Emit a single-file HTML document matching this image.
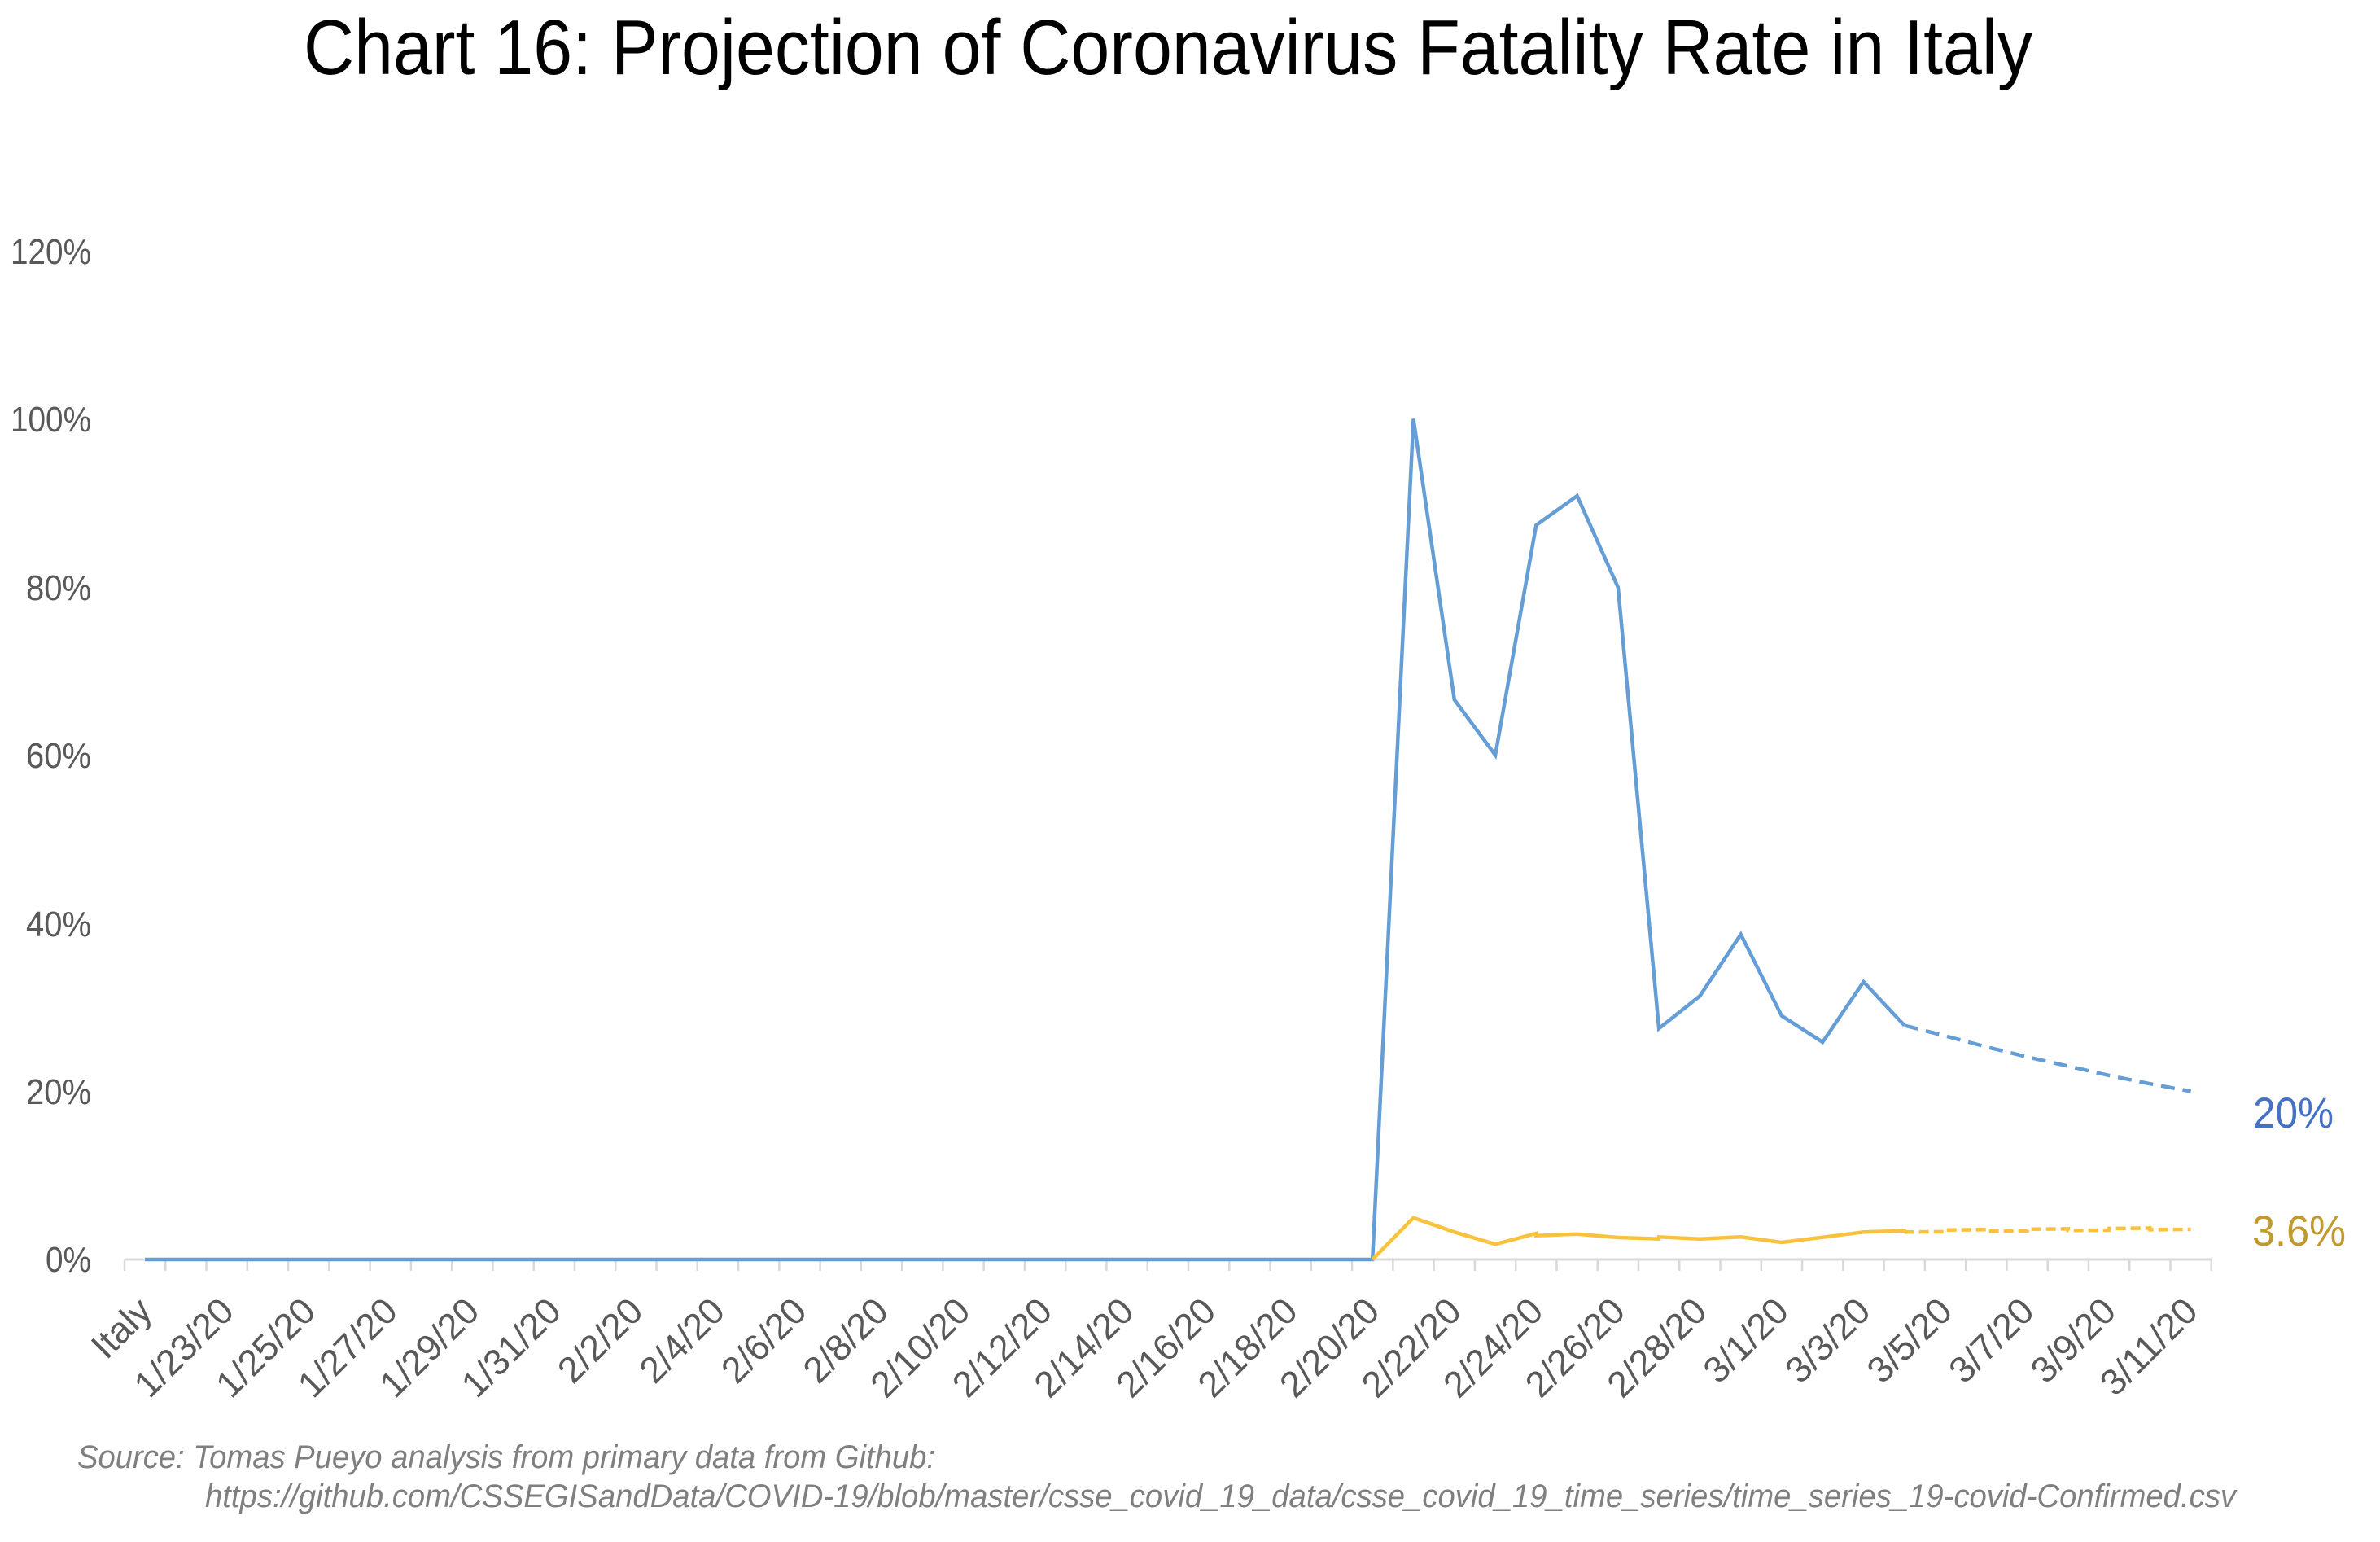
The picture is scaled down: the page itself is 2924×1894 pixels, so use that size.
<!DOCTYPE html>
<html>
<head>
<meta charset="utf-8">
<style>
html,body{margin:0;padding:0;background:#fff;}
svg{display:block;}
text{font-family:"Liberation Sans",Arial,sans-serif;}
</style>
</head>
<body>
<svg width="2924" height="1894" viewBox="0 0 2924 1894" xmlns="http://www.w3.org/2000/svg">
<rect x="0" y="0" width="2924" height="1894" fill="#ffffff"/>

<!-- Title -->
<text x="373" y="91" font-size="96" fill="#000" textLength="2124" lengthAdjust="spacingAndGlyphs">Chart 16: Projection of Coronavirus Fatality Rate in Italy</text>

<!-- Y axis labels -->
<g font-size="44" fill="#595959" text-anchor="end">
<text x="112" y="324" textLength="99" lengthAdjust="spacingAndGlyphs">120%</text>
<text x="112" y="530" textLength="99" lengthAdjust="spacingAndGlyphs">100%</text>
<text x="112" y="737" textLength="80" lengthAdjust="spacingAndGlyphs">80%</text>
<text x="112" y="943" textLength="80" lengthAdjust="spacingAndGlyphs">60%</text>
<text x="112" y="1150" textLength="80" lengthAdjust="spacingAndGlyphs">40%</text>
<text x="112" y="1356" textLength="80" lengthAdjust="spacingAndGlyphs">20%</text>
<text x="112" y="1562" textLength="56" lengthAdjust="spacingAndGlyphs">0%</text>
</g>

<!-- X axis -->
<line x1="153" y1="1547" x2="2717" y2="1547" stroke="#d9d9d9" stroke-width="3"/>
<path stroke="#d9d9d9" stroke-width="2.5" fill="none" d="
M153 1547V1561 M203.27 1547V1561 M253.54 1547V1561 M303.81 1547V1561 M354.08 1547V1561
M404.35 1547V1561 M454.62 1547V1561 M504.89 1547V1561 M555.16 1547V1561 M605.43 1547V1561
M655.7 1547V1561 M705.97 1547V1561 M756.24 1547V1561 M806.51 1547V1561 M856.78 1547V1561
M907.05 1547V1561 M957.32 1547V1561 M1007.59 1547V1561 M1057.86 1547V1561 M1108.13 1547V1561
M1158.4 1547V1561 M1208.67 1547V1561 M1258.94 1547V1561 M1309.21 1547V1561 M1359.48 1547V1561
M1409.75 1547V1561 M1460.02 1547V1561 M1510.29 1547V1561 M1560.56 1547V1561 M1610.83 1547V1561
M1661.1 1547V1561 M1711.37 1547V1561 M1761.64 1547V1561 M1811.91 1547V1561 M1862.18 1547V1561
M1912.45 1547V1561 M1962.72 1547V1561 M2012.99 1547V1561 M2063.26 1547V1561 M2113.53 1547V1561
M2163.8 1547V1561 M2214.07 1547V1561 M2264.34 1547V1561 M2314.61 1547V1561 M2364.88 1547V1561
M2415.15 1547V1561 M2465.42 1547V1561 M2515.69 1547V1561 M2565.96 1547V1561 M2616.23 1547V1561
M2666.5 1547V1561 M2716.77 1547V1561"/>

<!-- X axis labels -->
<g font-size="45" fill="#595959" text-anchor="end">
<text transform="translate(189.1,1613) rotate(-45)">Italy</text>
<text transform="translate(289.7,1613) rotate(-45)">1/23/20</text>
<text transform="translate(390.2,1613) rotate(-45)">1/25/20</text>
<text transform="translate(490.8,1613) rotate(-45)">1/27/20</text>
<text transform="translate(591.3,1613) rotate(-45)">1/29/20</text>
<text transform="translate(691.8,1613) rotate(-45)">1/31/20</text>
<text transform="translate(792.4,1613) rotate(-45)">2/2/20</text>
<text transform="translate(892.9,1613) rotate(-45)">2/4/20</text>
<text transform="translate(993.5,1613) rotate(-45)">2/6/20</text>
<text transform="translate(1094,1613) rotate(-45)">2/8/20</text>
<text transform="translate(1194.5,1613) rotate(-45)">2/10/20</text>
<text transform="translate(1295.1,1613) rotate(-45)">2/12/20</text>
<text transform="translate(1395.6,1613) rotate(-45)">2/14/20</text>
<text transform="translate(1496.2,1613) rotate(-45)">2/16/20</text>
<text transform="translate(1596.7,1613) rotate(-45)">2/18/20</text>
<text transform="translate(1697.2,1613) rotate(-45)">2/20/20</text>
<text transform="translate(1797.8,1613) rotate(-45)">2/22/20</text>
<text transform="translate(1898.3,1613) rotate(-45)">2/24/20</text>
<text transform="translate(1998.9,1613) rotate(-45)">2/26/20</text>
<text transform="translate(2099.4,1613) rotate(-45)">2/28/20</text>
<text transform="translate(2199.9,1613) rotate(-45)">3/1/20</text>
<text transform="translate(2300.5,1613) rotate(-45)">3/3/20</text>
<text transform="translate(2401,1613) rotate(-45)">3/5/20</text>
<text transform="translate(2501.6,1613) rotate(-45)">3/7/20</text>
<text transform="translate(2602.1,1613) rotate(-45)">3/9/20</text>
<text transform="translate(2702.6,1613) rotate(-45)">3/11/20</text>
</g>

<!-- Blue series (solid) -->
<polyline fill="none" stroke="#659dd5" stroke-width="4.5" stroke-linejoin="miter" stroke-miterlimit="10" points="
178.1,1547 1686.2,1547 1736.5,514.5 1786.8,859.5 1837.1,927.5 1887.3,645 1937.6,609 1987.9,721.5
2038.1,1263.3 2088.4,1223.3 2138.7,1147.7 2188.9,1247.7 2239.2,1280 2289.5,1206 2339.7,1259.5"/>
<!-- Blue projection (dashed) -->
<polyline fill="none" stroke="#659dd5" stroke-width="4.5" stroke-dasharray="17 10" points="
2339.7,1259.5 2390,1272.4 2440.3,1285.8 2490.6,1298.2 2540.8,1309.5 2591.1,1320.9 2641.4,1331.2 2691.6,1340.5"/>

<!-- Yellow series (solid) -->
<polyline fill="none" stroke="#f9c23c" stroke-width="4.5" stroke-linejoin="miter" points="
1686.2,1547 1736.5,1495.7 1786.8,1513.3 1837.1,1528.3 1887.3,1515 1887.3,1517.7 1937.6,1515.7 1987.9,1520
2038.1,1521.7 2038.1,1519.3 2088.4,1521.7 2138.7,1519.3 2188.9,1526 2239.2,1519.7 2289.5,1513.3 2339.7,1511.7 2339.7,1513.3"/>
<!-- Yellow projection (dashed) -->
<polyline fill="none" stroke="#f9c23c" stroke-width="4.5" stroke-dasharray="12 6" points="
2339.7,1513.3 2390,1512.8 2390,1510.8 2440.3,1510.3 2440.3,1512.3 2490.6,1511.8 2490.6,1509.8 2540.8,1509.3 2540.8,1511.3 2591.1,1510.9 2591.1,1508.9 2641.4,1508.4 2641.4,1510.4 2691.6,1510"/>

<!-- End labels -->
<text x="2768" y="1385" font-size="53" fill="#4472c4" textLength="99" lengthAdjust="spacingAndGlyphs">20%</text>
<text x="2767" y="1530" font-size="53" fill="#c09a2c" textLength="115" lengthAdjust="spacingAndGlyphs">3.6%</text>

<!-- Source -->
<g font-size="40" font-style="italic" fill="#7f7f7f">
<text x="95" y="1803" textLength="1054" lengthAdjust="spacingAndGlyphs">Source: Tomas Pueyo analysis from primary data from Github:</text>
<text x="252" y="1851" textLength="2495" lengthAdjust="spacingAndGlyphs">https://github.com/CSSEGISandData/COVID-19/blob/master/csse_covid_19_data/csse_covid_19_time_series/time_series_19-covid-Confirmed.csv</text>
</g>
</svg>
</body>
</html>
